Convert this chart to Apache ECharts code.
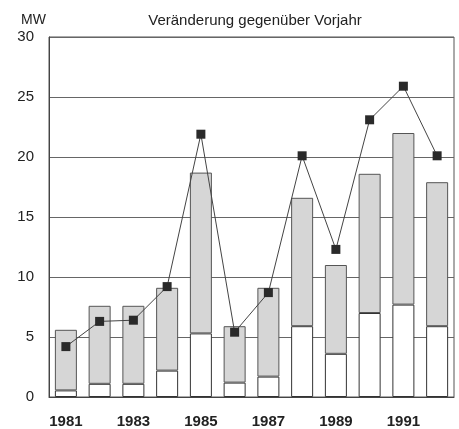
<!DOCTYPE html>
<html><head><meta charset="utf-8">
<script src="https://cdn.jsdelivr.net/npm/echarts@6/dist/echarts.min.js"></script>
<style>html,body{margin:0;padding:0;background:#fff;}#c{width:459px;height:429px;}</style>
</head><body><div id="c"></div>
<script>
const years = ['1981','1982','1983','1984','1985','1986','1987','1988','1989','1990','1991','1992'];
const baseValues = [0.55, 1.1, 1.1, 2.2, 5.3, 1.2, 1.7, 5.9, 3.6, 7.0, 7.7, 5.9];
const totalValues = [5.6, 7.6, 7.6, 9.1, 18.7, 5.9, 9.1, 16.6, 11.0, 18.6, 22.0, 17.9];
const lineValues = [4.2, 6.3, 6.4, 9.2, 21.9, 5.4, 8.7, 20.1, 12.3, 23.1, 25.9, 20.1];
const yTicks = [0, 5, 10, 15, 20, 25, 30];
const topValues = totalValues.map((t, i) => +(t - baseValues[i]).toFixed(2));

const chart = echarts.init(document.getElementById('c'));
const font = 'Liberation Sans, Arial, sans-serif';
chart.setOption({
  animation: false,
  backgroundColor: '#fff',
  title: [
    {text: 'Veränderung gegenüber Vorjahr', left: 250, top: 8, textAlign: 'center',
     textStyle: {fontFamily: font, fontSize: 15, fontWeight: 'normal', color: '#222'}},
    {text: 'MW', left: 16, top: 8,
     textStyle: {fontFamily: font, fontSize: 14, fontWeight: 'normal', color: '#222'}}
  ],
  grid: {left: 49, right: 5, top: 37, bottom: 32, show: true, borderColor: '#555', borderWidth: 1, backgroundColor: 'transparent'},
  xAxis: {
    type: 'category', data: years,
    axisLine: {lineStyle: {color: '#444'}},
    axisTick: {show: false},
    axisLabel: {interval: 1, margin: 17, fontFamily: font, fontSize: 15, fontWeight: 'bold', color: '#222'}
  },
  yAxis: {
    type: 'value', min: yTicks[0], max: yTicks[yTicks.length - 1], interval: 5,
    axisLine: {show: true, lineStyle: {color: '#444'}},
    axisTick: {show: false},
    axisLabel: {margin: 15, fontFamily: font, fontSize: 15, color: '#222'},
    splitLine: {lineStyle: {color: '#666', width: 1}}
  },
  series: [
    {type: 'bar', stack: 's', data: baseValues, barWidth: 22,
     itemStyle: {color: '#fff', borderColor: '#333', borderWidth: 1}},
    {type: 'bar', stack: 's', data: topValues, barWidth: 22,
     itemStyle: {color: '#d6d6d6', borderColor: '#555', borderWidth: 1}},
    {type: 'line', data: lineValues, symbol: 'rect', symbolSize: 9,
     lineStyle: {color: '#444', width: 1}, itemStyle: {color: '#2a2a2a'}, z: 5}
  ]
});
</script></body></html>
